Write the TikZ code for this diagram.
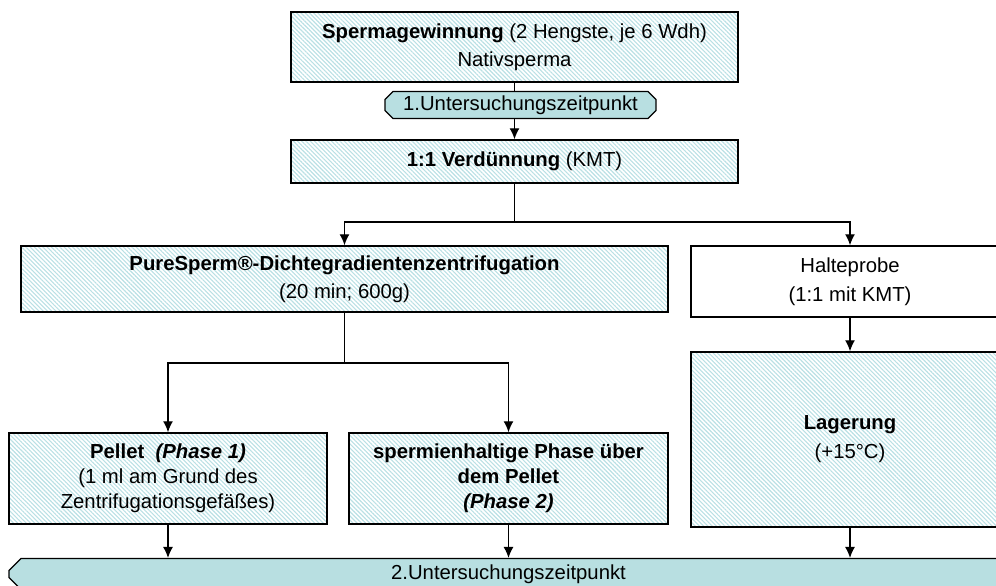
\documentclass[tikz,border=0pt]{standalone}
\usepackage{fontspec}
\setmainfont{Liberation Sans}
\usetikzlibrary{patterns.meta,shapes.misc,arrows.meta}
\definecolor{hatch_blue}{RGB}{186,224,228}
\definecolor{tp_blue}{RGB}{184,223,225}
\tikzstyle{hb}=[rectangle,draw=black,line width=1.5pt,
  pattern={Lines[angle=-45,distance=3pt,line width=1.1pt]},pattern color=hatch_blue,
  inner sep=0pt,align=center,font=\fontsize{20.3}{28}\selectfont]
\tikzstyle{wb}=[rectangle,draw=black,line width=1.5pt,fill=white,
  inner sep=0pt,align=center,font=\fontsize{20.3}{29}\selectfont]
\tikzstyle{tp}=[chamfered rectangle,chamfered rectangle xsep=4pt,chamfered rectangle ysep=4pt,
  fill=tp_blue,draw=black,line width=1.2pt,inner sep=0pt,font=\fontsize{20.3}{24}\selectfont]
\tikzstyle{ln}=[line width=1.3pt]
\tikzstyle{arr}=[line width=1.3pt,-{Latex[length=11pt,width=10pt]}]

\begin{document}
\begin{tikzpicture}[x=10pt, y=10pt]
    \useasboundingbox (0, 0) rectangle (99.6, -58.6);
    \node [style=hb, minimum width=447pt, minimum height=70pt] (0) at (51.45, -4.7)
      {\textbf{Spermagewinnung} (2 Hengste, je 6 Wdh)\\Nativsperma};
    \node [style=tp, minimum width=271pt, minimum height=24pt] (1) at (52.05, -10.5)
      {1.Untersuchungszeitpunkt};
    \node [style=hb, minimum width=447pt, minimum height=43pt] (2) at (51.45, -16.15)
      {\textbf{1:1 Verdünnung} (KMT)};
    \node [style=hb, minimum width=647pt, minimum height=66pt] (3) at (34.45, -27.9)
      {\textbf{PureSperm®-Dichtegradientenzentrifugation}\\(20 min; 600g)};
    \node [style=wb, minimum width=318pt, minimum height=71pt] (4) at (85, -28.15)
      {Halteprobe\\(1:1 mit KMT)};
    \node [style=hb, font=\fontsize{20.3}{29}\selectfont, minimum width=318pt, minimum height=175pt] (5) at (85, -43.95)
      {\textbf{Lagerung}\\(+15°C)};
    \node [style=hb, font=\fontsize{20.3}{25}\selectfont, minimum width=318pt, minimum height=91pt] (6) at (16.8, -47.85)
      {\textbf{Pellet \ \textit{(Phase 1)}}\\(1 ml am Grund des\\Zentrifugationsgefäßes)};
    \node [style=hb, font=\fontsize{20.3}{25}\selectfont, minimum width=319pt, minimum height=91pt] (7) at (50.85, -47.85)
      {\textbf{spermienhaltige Phase über}\\\textbf{dem Pellet}\\\textbf{\textit{(Phase 2)}}};
    \node [style=tp, chamfered rectangle corners={north west, south west}, chamfered rectangle xsep=6pt,
      chamfered rectangle ysep=6pt, minimum width=999pt, minimum height=22pt] (8) at (50.85, -57.4)
      {2.Untersuchungszeitpunkt};
    \coordinate (9) at (51.45, -22.2);
    \coordinate (10) at (34.45, -36.3);
    \draw [style=ln] (0.south) to (0.south |- 1.north);
    \draw [style=arr] (0.south |- 1.south) to (2.north);
    \draw [style=ln] (2.south) to (9);
    \draw [style=arr] (9) -| (3.north);
    \draw [style=arr] (9) -| (4.north);
    \draw [style=arr] (4) to (5);
    \draw [style=ln] (3.south) to (10);
    \draw [style=arr] (10) -| (6.north);
    \draw [style=arr] (10) -| (7.north);
    \draw [style=arr] (6.south) to (6.south |- 8.north);
    \draw [style=arr] (7.south) to (7.south |- 8.north);
    \draw [style=arr] (5.south) to (5.south |- 8.north);
\end{tikzpicture}
\end{document}
